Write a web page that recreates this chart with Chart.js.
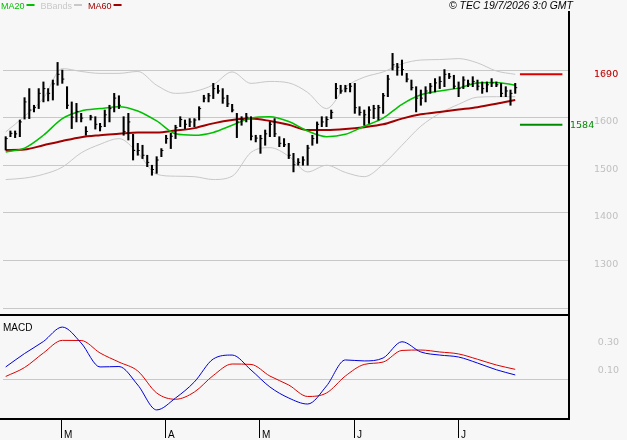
<!DOCTYPE html>
<html>
<head>
<meta charset="utf-8">
<title>Cours</title>
<script src="https://cdn.jsdelivr.net/npm/chart.js@4.4.1/dist/chart.umd.min.js"></script>
<style>
  html, body { margin: 0; padding: 0; background: #f7f7f7; }
  canvas { display: block; }
</style>
</head>
<body>
<canvas id="chart" width="627" height="440"></canvas>
<script>
// daily bars, index 0 = first bar on the left
var highs = [1559,1571,1571,1594,1641,1660,1625,1660,1674,1660,
             1678,1715,1699,1664,1632,1629,1608,1580,1604,1601,
             1587,1615,1625,1650,1645,1601,1608,1564,1545,1541,
             1520,1499,1517,1534,1562,1566,1583,1601,1594,1597,
             1597,1622,1646,1650,1671,1667,1660,1646,1627,1608,
             1601,1608,1601,1562,1562,1573,1590,1597,1559,1555,
             1545,1524,1513,1517,1541,1562,1590,1601,1601,1615,
             1671,1667,1667,1671,1671,1622,1615,1622,1625,1625,
             1650,1688,1734,1713,1720,1692,1678,1664,1657,1664,
             1671,1681,1685,1700,1692,1688,1674,1685,1678,1685,
             1678,1674,1674,1681,1674,1671,1664,1657,1671];
var lows = [1531,1559,1557,1559,1596,1597,1611,1618,1632,1634,
            1636,1667,1671,1618,1576,1590,1590,1562,1594,1575,
            1571,1580,1590,1611,1618,1562,1552,1510,1520,1513,
            1496,1478,1482,1517,1545,1534,1555,1580,1576,1580,
            1580,1594,1632,1632,1639,1650,1629,1622,1611,1557,
            1583,1590,1552,1548,1524,1541,1559,1559,1538,1538,
            1513,1485,1499,1499,1499,1541,1545,1580,1580,1597,
            1639,1650,1653,1653,1608,1604,1583,1587,1597,1594,
            1608,1643,1699,1688,1688,1674,1657,1611,1625,1632,
            1650,1653,1660,1664,1681,1660,1643,1660,1664,1664,
            1657,1650,1653,1664,1664,1643,1643,1625,1650];
var closes = [1555,1566,1565,1590,1632,1615,1620,1650,1660,1650,
              1670,1690,1680,1625,1600,1612,1598,1570,1600,1585,
              1580,1605,1618,1640,1625,1570,1590,1530,1530,1520,
              1505,1490,1510,1530,1555,1560,1578,1595,1585,1590,
              1594,1618,1640,1645,1660,1655,1640,1628,1615,1590,
              1595,1600,1560,1556,1555,1565,1585,1565,1545,1542,
              1520,1500,1505,1510,1535,1555,1585,1590,1595,1610,
              1660,1655,1660,1665,1620,1610,1605,1615,1618,1620,
              1645,1680,1710,1705,1700,1680,1662,1640,1640,1655,
              1665,1672,1675,1690,1685,1665,1660,1678,1670,1675,
              1665,1660,1668,1672,1668,1650,1655,1650,1662];

// indicator lines, read every 4 bars
var lineIdx = [0,4,8,12,16,20,24,28,32,36,40,44,48,52,56,60,64,68,72,76,80,84,88,92,96,100,104,108];
var ma20  = [1527,1535,1562,1597,1613,1618,1622,1613,1592,1565,1562,1568,1583,1598,1601,1591,1571,1559,1564,1581,1598,1627,1647,1655,1661,1672,1673,1667];
var ma60  = [1531,1532,1541,1550,1558,1562,1565,1568,1568,1572,1577,1587,1594,1597,1592,1584,1573,1573,1575,1579,1585,1597,1606,1611,1616,1621,1628,1636];
var bbUp  = [1569,1602,1640,1702,1696,1692,1692,1696,1667,1650,1654,1668,1695,1671,1675,1672,1652,1618,1663,1684,1695,1712,1720,1721,1723,1714,1697,1690];
var bbLow = [1469,1472,1480,1495,1525,1543,1555,1525,1480,1476,1475,1469,1476,1526,1536,1518,1485,1499,1484,1475,1501,1541,1581,1608,1627,1642,1643,1643];
var macd   = [0.086,0.182,0.268,0.371,0.257,0.086,0.089,-0.043,-0.221,-0.136,-0.021,0.143,0.171,0.064,-0.057,-0.136,-0.179,-0.05,0.136,0.129,0.15,0.266,0.193,0.171,0.157,0.114,0.066,0.029];
var signal = [0.018,0.082,0.186,0.276,0.275,0.186,0.121,0.057,-0.1,-0.145,-0.093,0.025,0.107,0.104,0.021,-0.043,-0.125,-0.1,0.021,0.104,0.121,0.204,0.207,0.193,0.179,0.141,0.1,0.069];

var levels = [1690, 1584];
var levelColors = ['#dd0000', '#008c00'];

var priceGrid = [1700, 1600, 1500, 1400, 1300, 1200];
var priceLabels = [1700, 1600, 1500, 1400, 1300];
var macdLabels = [0.30, 0.10];
var monthIdx = [12, 34, 54, 74, 96];
var monthLabels = ['M', 'A', 'M', 'J', 'J'];

function pts(idx, vals) {
    return idx.map(function (i, k) { return { x: i, y: vals[k] }; });
}

var barData = highs.map(function (h, i) { return { x: i, y: [lows[i], h] }; });
var closeData = closes.map(function (c, i) { return { x: i, y: c }; });
var last = highs.length - 1;

function lineSet(data, color, width, axis) {
    return {
        type: 'line',
        data: data,
        borderColor: color,
        borderWidth: width,
        pointRadius: 0,
        cubicInterpolationMode: 'monotone',
        yAxisID: axis
    };
}

var datasets = [
    { type: 'bar', data: barData, backgroundColor: '#000', borderWidth: 0, barThickness: 1.4, yAxisID: 'y' },
    { type: 'scatter', data: closeData, pointStyle: 'dash', pointRadius: 2, pointBorderColor: '#000',
      pointBorderWidth: 1, pointHoverRadius: 0, yAxisID: 'y' },
    lineSet(pts(lineIdx, ma20), '#00c000', 1.5, 'y'),
    lineSet(pts(lineIdx, ma60), '#a00000', 2, 'y'),
    lineSet(pts(lineIdx, bbUp), '#c8c8c8', 1, 'y'),
    lineSet(pts(lineIdx, bbLow), '#c8c8c8', 1, 'y'),
    lineSet(pts(lineIdx, macd), '#0000dd', 1, 'y2'),
    lineSet(pts(lineIdx, signal), '#dd0000', 1, 'y2')
];
levels.forEach(function (v, k) {
    datasets.push(lineSet([{ x: last + 1, y: v }, { x: last + 10, y: v }], levelColors[k], 2, 'y'));
});

var panels = {
    id: 'panels',
    beforeDraw: function (chart) {
        var ctx = chart.ctx;
        ctx.save();
        ctx.fillStyle = '#f7f7f7';
        ctx.fillRect(0, 0, chart.width, chart.height);
        ctx.restore();
    },
    beforeDatasetsDraw: function (chart) {
        var ctx = chart.ctx, a = chart.chartArea;
        var ys = chart.scales.y, y2 = chart.scales.y2;
        ctx.save();
        ctx.strokeStyle = '#c8c8c8';
        ctx.lineWidth = 1;
        priceGrid.forEach(function (v) {
            var py = Math.round(ys.getPixelForValue(v)) + 0.5;
            ctx.beginPath(); ctx.moveTo(a.left, py); ctx.lineTo(a.right, py); ctx.stroke();
        });
        var zy = Math.round(y2.getPixelForValue(0)) + 0.5;
        ctx.beginPath(); ctx.moveTo(a.left, zy); ctx.lineTo(a.right, zy); ctx.stroke();
        ctx.restore();
    },
    afterDraw: function (chart) {
        var ctx = chart.ctx, a = chart.chartArea;
        var xs = chart.scales.x, ys = chart.scales.y, y2 = chart.scales.y2;
        ctx.save();

        // frame
        ctx.fillStyle = '#000';
        ctx.fillRect(a.right - 1, a.top, 2, a.bottom - a.top + 1);
        ctx.fillRect(0, 314, a.right + 1, 2);
        ctx.fillRect(0, a.bottom - 1, a.right + 1, 2);

        // month ticks
        ctx.strokeStyle = '#000';
        ctx.lineWidth = 1;
        ctx.font = '10px "Liberation Sans", Arial, sans-serif';
        ctx.textBaseline = 'alphabetic';
        monthIdx.forEach(function (i, k) {
            var px = Math.round(xs.getPixelForValue(i)) - 0.5;
            ctx.beginPath(); ctx.moveTo(px, a.bottom + 1); ctx.lineTo(px, a.bottom + 19); ctx.stroke();
            ctx.fillText(monthLabels[k], px + 2.5, a.bottom + 19);
        });

        // right axis labels
        ctx.font = '9.5px "DejaVu Sans", sans-serif';
        ctx.textBaseline = 'middle';
        ctx.fillStyle = '#c0c0c0';
        priceLabels.forEach(function (v) {
            ctx.fillText(String(v), 594, Math.round(ys.getPixelForValue(v)) + 4.5);
        });
        ctx.textAlign = 'right';
        macdLabels.forEach(function (v) {
            ctx.fillText(v.toFixed(2), 619, Math.round(y2.getPixelForValue(v)) + 5.5);
        });
        ctx.textAlign = 'left';
        ctx.fillStyle = '#cc0000';
        ctx.fillText(String(levels[0]), 594, ys.getPixelForValue(levels[0]) + 0.5);
        ctx.fillStyle = '#008c00';
        ctx.fillText(String(levels[1]), 570, ys.getPixelForValue(levels[1]) + 0.5);

        // legend
        ctx.font = '9px "Liberation Sans", Arial, sans-serif';
        ctx.textBaseline = 'alphabetic';
        var items = [['MA20', '#00c000'], ['BBands', '#c8c8c8'], ['MA60', '#a00000']];
        var lx = 1;
        items.forEach(function (it) {
            ctx.fillStyle = it[1];
            ctx.fillText(it[0], lx, 9);
            lx += ctx.measureText(it[0]).width + 2;
            ctx.fillRect(lx, 4, 8, 2);
            lx += 14;
        });

        ctx.fillStyle = '#000';
        ctx.font = 'italic 10.4px "Liberation Sans", Arial, sans-serif';
        ctx.fillText('\u00a9 TEC 19/7/2026 3:0 GMT', 449, 9);

        ctx.font = '10px "Liberation Sans", Arial, sans-serif';
        ctx.fillText('MACD', 3, 331);
        ctx.restore();
    }
};

new Chart(document.getElementById('chart').getContext('2d'), {
    type: 'bar',
    data: { datasets: datasets },
    options: {
        responsive: false,
        animation: false,
        events: [],
        layout: { padding: { left: 0, right: 58, top: 11, bottom: 21 } },
        plugins: { legend: { display: false }, tooltip: { enabled: false } },
        scales: {
            x: { type: 'linear', min: -0.57, max: 119.4, offset: false, display: false },
            y: { type: 'linear', min: 966, max: 1823, display: false },
            y2: { type: 'linear', min: -0.286, max: 2.63, display: false }
        }
    },
    plugins: [panels]
});
</script>
</body>
</html>
